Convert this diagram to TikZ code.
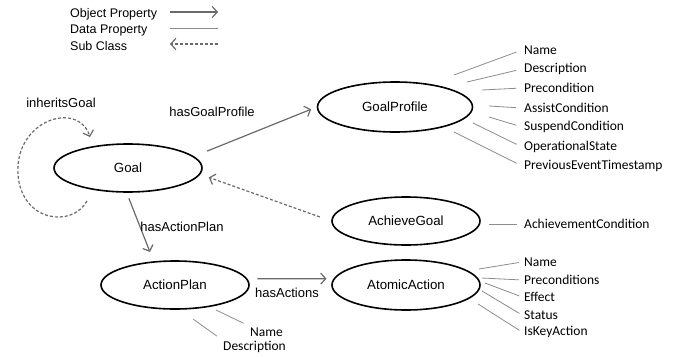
\documentclass[tikz,border=0pt]{standalone}
\usepackage{fontspec}
\setmainfont{Liberation Sans}
\newfontfamily\propfont{Carlito}
\usetikzlibrary{arrows.meta,shapes.geometric}

\definecolor{linkgray}{HTML}{6A6A6A}
\definecolor{propgray}{HTML}{8C8C8C}

\tikzset{
	concept/.style={ellipse, draw=black, line width=1.6pt, minimum width=148pt, minimum height=48pt, inner sep=0pt, font=\fontsize{13.3}{15}\selectfont},
	rel/.style={font=\fontsize{13}{15}\selectfont, inner sep=1pt},
	legend/.style={anchor=west, font=\fontsize{12.5}{14}\selectfont, inner sep=0pt},
	attr/.style={anchor=west, font=\propfont\fontsize{13.5}{15}\selectfont, inner sep=2pt},
	objprop/.style={draw=linkgray, line width=1.2pt, -{Straight Barb[length=5pt,width=11pt]}},
	dataprop/.style={draw=propgray, line width=0.8pt, shorten >=5pt},
	subclass/.style={draw=linkgray, line width=1.2pt, dash pattern=on 3pt off 2pt, -{Straight Barb[length=5pt,width=11pt]}}
}

\begin{document}
\begin{tikzpicture}[x=1pt,y=-1pt]

	\useasboundingbox (0,0) rectangle (687,356);

	% legend
	\node[legend] (lObj) at (70,14) {Object Property};
	\node[legend] (lData) at (70,30) {Data Property};
	\node[legend] (lSub) at (70,46) {Sub Class};
	\coordinate (lObjA) at (170,12);
	\coordinate (lObjB) at (218,12);
	\coordinate (lDataA) at (170,28);
	\coordinate (lDataB) at (218,28);
	\coordinate (lSubA) at (218,44);
	\coordinate (lSubB) at (170,44);
	\draw[objprop] (lObjA) -- (lObjB);
	\draw[dataprop, shorten >=0pt] (lDataA) -- (lDataB);
	\draw[subclass] (lSubA) -- (lSubB);

	% classes
	\node[concept] (goal) at (128,168) {Goal};
	\node[concept] (ap) at (175,285) {ActionPlan};
	\node[concept, minimum width=155pt, minimum height=50pt] (gp) at (395,107) {GoalProfile};
	\node[concept] (ag) at (406,221) {AchieveGoal};
	\node[concept, minimum height=50pt] (aa) at (406,285) {AtomicAction};

	% object properties
	\draw[objprop, shorten <=14pt, shorten >=6pt] (goal.10) -- (gp.west);
	\draw[objprop, shorten <=6pt, shorten >=10pt] (goal.-93) -- (ap.132);
	\draw[objprop, shorten <=10pt, shorten >=7pt] (ap.5) -- (aa.175);
	\draw[subclass, shorten <=12pt, shorten >=9pt] (ag.west) -- (goal.-5);

	\coordinate (loopA) at (87,201);
	\coordinate (loopB) at (90,137);
	\draw[subclass] (loopA) .. controls (72,228) and (22,222) .. (18,175) .. controls (14,120) and (78,100) .. (loopB);

	\node[rel] (inherits) at (61,103) {inheritsGoal};
	\node[rel] (hasGP) at (212,112) {hasGoalProfile};
	\node[rel] (hasAP) at (182,227) {hasActionPlan};
	\node[rel] (hasAct) at (287,293) {hasActions};

	% data properties
	\foreach \name/\y [count=\i] in {Name/50, Description/69, Precondition/88, AssistCondition/108, SuspendCondition/127, OperationalState/147, PreviousEventTimestamp/166}
		\node[attr] (gp\i) at (522,\y) {\name};
	\foreach \x/\y [count=\i] in {454/75, 467/82, 482/90, 489/106, 489/117, 473/123, 454/132}
	{
		\coordinate (gps\i) at (\x,\y);
		\draw[dataprop, shorten >=6pt] (gps\i) -- (gp\i.west);
	}

	\node[attr] (ag1) at (522,224) {AchievementCondition};
	\coordinate (ags1) at (489,224);
	\draw[dataprop] (ags1) -- (ag1.west);

	\foreach \name/\y [count=\i] in {Name/262, Preconditions/280, Effect/297, Status/315, IsKeyAction/332}
		\node[attr] (aa\i) at (522,\y) {\name};
	\foreach \x/\y [count=\i] in {479/269, 482/278, 485/283, 482/291, 478/304}
	{
		\coordinate (aas\i) at (\x,\y);
		\draw[dataprop, shorten >=3pt] (aas\i) -- (aa\i.west);
	}

	\node[attr] (ap1) at (248,332) {Name};
	\node[attr] (ap2) at (221,347) {Description};
	\coordinate (aps1) at (216,310);
	\coordinate (aps2) at (193,319);
	\draw[dataprop] (aps1) -- (ap1.north west);
	\draw[dataprop] (aps2) -- (ap2.north west);

\end{tikzpicture}
\end{document}
